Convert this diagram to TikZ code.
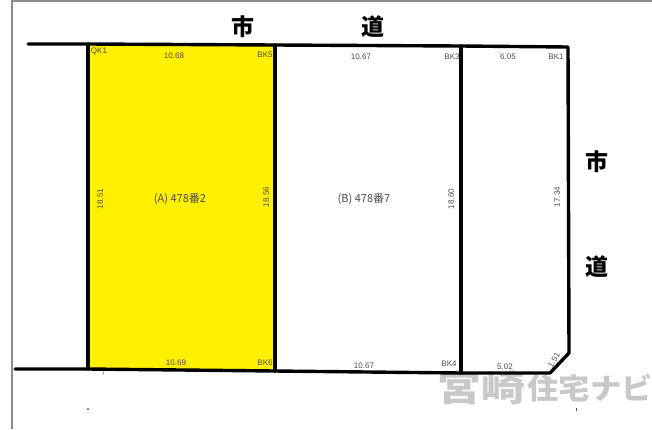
\documentclass[tikz,border=0pt]{standalone}
\usepackage{fontspec}
\usepackage{xcolor}
\setmainfont{Liberation Sans}
\newfontfamily\cjk{Noto Sans CJK JP}
\definecolor{lotyellow}{HTML}{FFF000}
\definecolor{markgray}{HTML}{C8C8C8}
\usetikzlibrary{calc}

\begin{document}
\begin{tikzpicture}[
  x=1pt, y=-1pt,
  boundary/.style={draw=black, line width=3.4pt, line cap=round, line join=round},
  sheet/.style={draw=black!45, line width=1.6pt},
  dim/.style={inner sep=0pt, text=black!70, font=\fontsize{8}{8}\selectfont},
  pin/.style={inner sep=0pt, text=black!70, font=\fontsize{8}{8}\selectfont},
  lot/.style={inner sep=0pt, text=black!70, font=\cjk\fontsize{11}{11}\selectfont},
  road/.style={inner sep=0pt, font=\cjk\bfseries\fontsize{23}{23}\selectfont},
  brand/.style={inner sep=0pt, text=markgray, font=\cjk\bfseries\fontsize{#1}{#1}\selectfont}
]
\useasboundingbox (0,0) rectangle (652,429);

% Page edge
\coordinate (frameA) at (652,1);
\coordinate (frameB) at (12,1);
\coordinate (frameC) at (12,429);

% Survey points
\coordinate (roadTL) at (28,44);
\coordinate (K1) at (88,44);
\coordinate (K5) at (275,45);
\coordinate (K3) at (461,46);
\coordinate (K0) at (568,47);
\coordinate (cutR) at (569,353);
\coordinate (cutB) at (550,373);
\coordinate (K4) at (461,373);
\coordinate (K6) at (275,371);
\coordinate (K2) at (88,369);
\coordinate (roadBL) at (15,369);

% Watermark
\node[brand=36, xscale=1.22] (wmA) at (481.5,388) {宮崎};
\node[brand=29, xscale=1.08] (wmB) at (590,388) {住宅ナビ};

% Lot A
\fill[lotyellow] (K1) -- (K5) -- (K6) -- (K2) -- cycle;

% Lines
\draw[sheet] (frameA) -- (frameB) -- (frameC);
\draw[boundary] (roadTL) -- (K1) -- (K5) -- (K3) -- (K0) -- (cutR) -- (cutB) -- (K4) -- (K6) -- (K2) -- (roadBL);
\draw[boundary] (K1) -- (K2);
\draw[boundary] (K5) -- (K6);
\draw[boundary] (K3) -- (K4);

% Road labels
\node[road] (roadA) at (243,27) {市};
\node[road] (roadB) at (373,27) {道};
\node[road] (roadC) at (597,162) {市};
\node[road] (roadD) at (597,267) {道};

% Lot labels
\node[lot] (lotA) at (180,199) {(A) 478番2};
\node[lot] (lotB) at (364,199) {(B) 478番7};

% Top dimensions
\node[dim] (topA) at (174,56) {10.68};
\node[dim] (topB) at (361,57) {10.67};
\node[dim] (topC) at (508,57) {6.05};

% Bottom dimensions
\node[dim] (botA) at (176,363) {10.69};
\node[dim] (botB) at (364,366) {10.67};
\node[dim] (botC) at (505,367) {5.02};
\node[dim, rotate=60] (botD) at (554,360) {1.51};

% Side dimensions
\node[dim, rotate=90] (sideA) at (100,199) {18.51};
\node[dim, rotate=90] (sideB) at (266,197) {18.56};
\node[dim, rotate=90] (sideC) at (451,199) {18.60};
\node[dim, rotate=90] (sideD) at (557,197) {17.34};

% Point names
\node[pin] (nameA) at (99,51) {QK1};
\node[pin] (nameB) at (265,55) {BK5};
\node[pin] (nameC) at (452,57) {BK3};
\node[pin] (nameD) at (556,57) {BK1};
\node[pin] (nameE) at (265,363) {BK6};
\node[pin] (nameF) at (449,364) {BK4};

% Stray marks
\fill[black!70] (88,409) circle (1pt);
\fill[black!70] (576,408) rectangle (577,411);
\draw[black!50, line width=.5pt] (104,371) -- (103,375);

\end{tikzpicture}
\end{document}
